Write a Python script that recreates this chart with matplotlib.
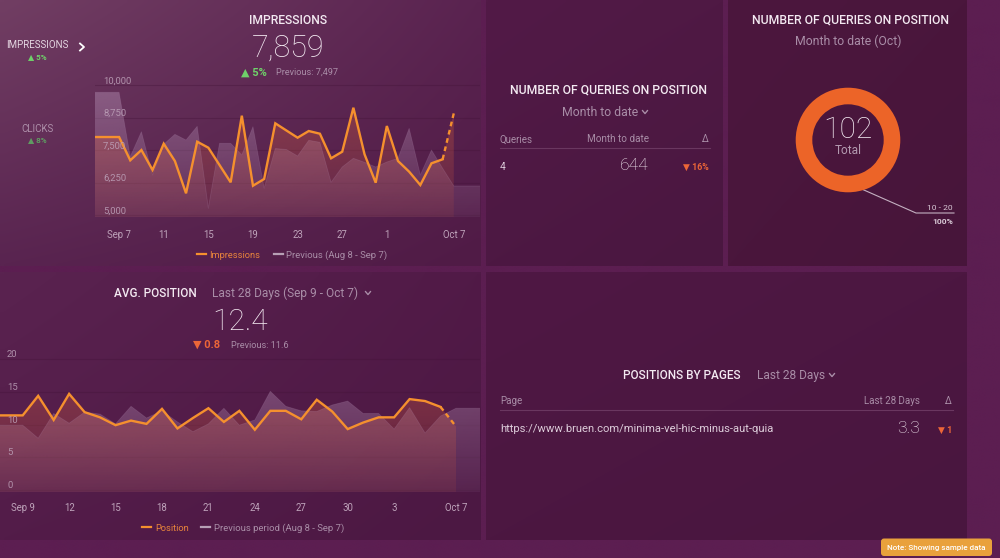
import numpy as np
import matplotlib
matplotlib.use('Agg')
import matplotlib.pyplot as plt
from matplotlib import transforms
from matplotlib.colors import to_rgb
from matplotlib.patches import FancyBboxPatch, Polygon

FONT = ['Roboto', 'DejaVu Sans']
plt.rcParams['font.family'] = FONT

# ---------------- DATA ----------------
# Impressions, daily, Sep 7 .. Oct 7
impressions = [8011, 7115, 7511, 6742, 7754, 7088, 5846, 7831, 7600, 6935, 6269,
               8831, 6138, 6396, 8538, 8261, 7985, 8242, 8138, 7192, 7446, 9138,
               7346, 6254, 8434, 7088, 6677, 6165, 7000, 7154, 8923]
imp_previous = [9731, 7254, 8215, 6550, 7731, 8115, 7896, 8423, 5269, 7769, 7769,
                7319, 8408, 6038, 7569, 7531, 7281, 7885, 7808, 6269, 6858, 7192,
                7038, 6858, 7050, 7192, 8346, 6550, 7511, 6808, 6127]
imp_xtick_pos = [0, 4, 8, 12, 16, 20, 24, 30]
imp_xtick_labels = ['Sep 7', '11', '15', '19', '23', '27', '1', 'Oct 7']
imp_yticks = [5000, 6250, 7500, 8750, 10000]
imp_ytick_labels = ['5,000', '6,250', '7,500', '8,750', '10,000']

# Avg. position, daily, Sep 9 .. Oct 7
position = [11.4, 14.4, 10.7, 14.7, 11.9, 11.1, 9.9, 10.6, 10.1, 12.4, 9.4, 11.0,
            12.5, 10.4, 12.1, 9.2, 12.1, 12.1, 10.8, 13.8, 12.0, 9.3, 10.3, 11.1,
            11.1, 13.9, 13.6, 12.7, 9.7]
pos_previous = [9.9, 7.9, 11.7, 10.2, 11.9, 11.6, 10.1, 12.8, 11.0, 12.1, 10.4, 8.9,
                10.1, 12.5, 9.9, 10.7, 15.1, 12.8, 12.1, 12.0, 13.0, 13.6, 11.7, 11.7,
                9.3, 12.6, 8.7, 11.3, 12.5]
pos_xtick_pos = [0, 3, 6, 9, 12, 15, 18, 21, 24, 28]
pos_xtick_labels = ['Sep 9', '12', '15', '18', '21', '24', '27', '30', '3', 'Oct 7']
pos_yticks = [0, 5, 10, 15, 20]
pos_ytick_labels = ['0', '5', '10', '15', '20']

# Donut: number of queries on position
donut_labels = ['10 - 20']
donut_values = [102]

# ---------------- FIGURE ----------------
W, H = 1000, 558
fig = plt.figure(figsize=(10, 5.58), dpi=100)

bg = fig.add_axes([0, 0, 1, 1])
bg.axis('off')


def grad_rect(x0, y0, x1, y1, tl, tr, bl, br):
    n = 64
    u = np.linspace(0, 1, n)
    U, V = np.meshgrid(u, u)
    U = U[..., None]
    V = V[..., None]
    c = ((1 - U) * (1 - V) * np.array(to_rgb(tl)) + U * (1 - V) * np.array(to_rgb(tr))
         + (1 - U) * V * np.array(to_rgb(bl)) + U * V * np.array(to_rgb(br)))
    bg.imshow(c, extent=(x0, x1, y1, y0), origin='upper', aspect='auto',
              interpolation='bilinear', zorder=0)


PAGE = '#5c1e51'
grad_rect(0, 0, W, H, PAGE, PAGE, PAGE, PAGE)
grad_rect(0, 0, 481, 266, '#713e63', '#5a2350', '#592450', '#501b46')
grad_rect(486, 0, 723, 266, '#521a47', '#4f1944', '#4d1843', '#4a1740')
grad_rect(728, 0, 967, 266, '#4c173e', '#4a163c', '#4a163c', '#47153a')
grad_rect(0, 272, 481, 540, '#5a2350', '#511a47', '#531c49', '#4c1843')
grad_rect(486, 272, 967, 540, '#4f1844', '#4c1741', '#4c1741', '#49163f')
bg.set_xlim(0, W)
bg.set_ylim(H, 0)

DY = 1.5


def T(x, y, s, size, color, ha='center', weight='normal', va='center', z=5):
    bg.text(x, y + DY, s, fontsize=size, color=color, ha=ha, va=va,
            fontweight=weight, family=FONT, zorder=z)


def chevron_down(x, y, color, s=2.6):
    bg.plot([x - s, x, x + s], [y - s * 0.6, y + s * 0.6, y - s * 0.6],
            color=color, lw=1.0, zorder=5, solid_capstyle='round')


def axes_px(l, t, r, b):
    ax = fig.add_axes([l / W, 1 - b / H, (r - l) / W, (b - t) / H])
    ax.patch.set_alpha(0)
    for sp in ax.spines.values():
        sp.set_visible(False)
    return ax


def grad_fill(ax, x, y, base, top, color, a_top, a_bot, zorder):
    verts = [(x[0], base)] + list(zip(x, y)) + [(x[-1], base)]
    poly = Polygon(verts, closed=True, facecolor='none', edgecolor='none')
    ax.add_patch(poly)
    n = 256
    rgba = np.zeros((n, 1, 4))
    rgba[..., :3] = to_rgb(color)
    rgba[:, 0, 3] = np.linspace(a_top, a_bot, n)
    im = ax.imshow(rgba, extent=(x[0], x[-1], base, top), origin='upper',
                   aspect='auto', interpolation='bilinear', zorder=zorder)
    im.set_clip_path(poly)


ORANGE = '#f5902e'
LAV = '#b48fb4'
GRID = '#431338'
TICKC = '#bea3ba'
GREEN = '#6fd06a'
RED = '#ec6638'
GREY = '#a98da7'
WHITE = '#f3e9f1'


def line_chart(ax, cur, prev, xlim, ylim, yticks, ylabels, xpos, xlabels,
               ylabel_dx, xlab_pad):
    n = len(cur)
    days = np.arange(n)
    # extend to left edge, previous to right edge
    xc = np.concatenate([[xlim[0]], days])
    yc = np.concatenate([[cur[0]], cur])
    xp = np.concatenate([[xlim[0]], days, [xlim[1]]])
    yp = np.concatenate([[prev[0]], prev, [prev[-1]]])
    base, top = ylim
    grad_fill(ax, xp, yp, base, top, LAV, 0.50, 0.10, 1)
    grad_fill(ax, xc, yc, base, top, '#d8603f', 0.42, 0.10, 2)
    ax.plot(xp, yp, color=LAV, lw=0.6, alpha=0.2, zorder=3)
    ax.plot(xc[:-1], yc[:-1], color=ORANGE, lw=1.7, zorder=4,
            solid_joinstyle='miter')
    ax.plot(xc[-2:], yc[-2:], color=ORANGE, lw=1.7, ls=(0, (2, 1.6)), zorder=4)
    for t in yticks:
        ax.axhline(t, color=GRID, lw=0.8, alpha=0.35, zorder=0.5)
    off = transforms.offset_copy(ax.get_yaxis_transform(), fig=fig,
                                 x=ylabel_dx, y=4.5, units='dots')
    for t, lab in zip(yticks, ylabels):
        ax.text(0, t, lab, transform=off, fontsize=6.8, color=TICKC, alpha=0.85,
                ha='left', va='center', zorder=5, family=FONT)
    ax.set_xlim(*xlim)
    ax.set_ylim(*ylim)
    ax.set_yticks([])
    ax.set_xticks(xpos)
    ax.set_xticklabels(xlabels, fontsize=6.9, color=TICKC, family=FONT)
    ax.tick_params(axis='x', length=0, pad=xlab_pad)


# ---------------- IMPRESSIONS ----------------
ax1 = axes_px(95, 80, 480, 217)
line_chart(ax1, impressions, imp_previous, (-2.16, 32.35), (4935, 10204),
           imp_yticks, imp_ytick_labels, imp_xtick_pos, imp_xtick_labels,
           8, 9.0)

T(288, 19, 'IMPRESSIONS', 8.7, WHITE, weight='medium')
T(288, 47, '7,859', 22, WHITE, weight='light')
T(254, 71, '▲ 5%', 8.0, GREEN, weight='bold')
T(276, 71, 'Previous: 7,497', 6.6, GREY, ha='left')
T(37, 44, 'IMPRESSIONS', 7.0, '#e4d6e1')
T(37, 56, '▲ 5%', 5.8, GREEN, weight='bold')
bg.plot([80, 84, 80], [43.5, 47, 50.5], color='white', lw=1.3, zorder=5)
T(37, 128, 'CLICKS', 7.0, '#ad8fa9')
T(37, 139, '▲ 8%', 5.8, '#5f9c62', weight='bold')

bg.plot([197, 206], [254, 254], color=ORANGE, lw=1.6, zorder=5)
T(209, 254, 'Impressions', 6.7, '#e8843c', ha='left')
bg.plot([274, 283], [254, 254], color='#b79fb5', lw=1.6, zorder=5)
T(286, 254, 'Previous (Aug 8 - Sep 7)', 6.8, GREY, ha='left')

# ---------------- AVG POSITION ----------------
ax2 = axes_px(0, 350, 480, 492)
line_chart(ax2, position, pos_previous, (-1.467, 29.55), (-0.35, 21.43),
           pos_yticks, pos_ytick_labels, pos_xtick_pos, pos_xtick_labels,
           7, 8.0)

T(155, 292, 'AVG. POSITION', 8.5, WHITE, weight='medium')
T(212, 292, 'Last 28 Days (Sep 9 - Oct 7)', 8.6, GREY, ha='left')
chevron_down(368, 293, GREY)
T(240, 320, '12.4', 21.5, WHITE, weight='light')
T(207, 343, '▼ 0.8', 8.0, RED, weight='bold')
T(231, 344, 'Previous: 11.6', 6.6, GREY, ha='left')

bg.plot([142, 151], [527, 527], color=ORANGE, lw=1.6, zorder=5)
T(155, 527, 'Position', 6.7, '#e8843c', ha='left')
bg.plot([201, 210], [527, 527], color='#b79fb5', lw=1.6, zorder=5)
T(214, 527, 'Previous period (Aug 8 - Sep 7)', 6.8, GREY, ha='left')

# ---------------- QUERIES TABLE ----------------
T(609, 89, 'NUMBER OF QUERIES ON POSITION', 8.8, WHITE, weight='medium')
T(600, 111, 'Month to date', 8.8, GREY)
chevron_down(645, 112, GREY)
T(500, 138, 'Queries', 7.0, GREY, ha='left')
T(649, 138, 'Month to date', 7.1, GREY, ha='right')
T(709, 138, 'Δ', 7.0, GREY, ha='right')
bg.plot([500, 710], [148, 148], color='#6a3760', lw=0.8, zorder=5)
T(500, 165, '4', 7.4, '#dccbd9', ha='left')
T(649, 164, '644', 12.5, WHITE, ha='right', weight='light')
T(709, 166, '▼ 16%', 6.4, RED, ha='right', weight='bold')

# ---------------- DONUT ----------------
T(851, 19, 'NUMBER OF QUERIES ON POSITION', 8.8, WHITE, weight='medium')
T(848, 40, 'Month to date (Oct)', 8.8, GREY)
r_px = 52.3
axd = axes_px(848 - 60, 140 - 60, 848 + 60, 140 + 60)
axd.pie(donut_values, colors=['#ec6428'], radius=1, startangle=90,
        counterclock=False, wedgeprops=dict(width=16.6 / r_px, edgecolor='none'))
lim = 60 / r_px
axd.set_xlim(-lim, lim)
axd.set_ylim(-lim, lim)
axd.set_aspect('auto')
axd.axis('off')
T(848, 129, str(sum(donut_values)), 21.5, WHITE, weight='light')
T(848, 149, 'Total', 8.6, '#b39ab0')
bg.plot([848, 916, 954], [183, 213, 213], color='#c4b0c1', lw=0.8, zorder=6)
bg.plot([848], [183], marker='o', ms=2.2, color='#e6d8e3', zorder=7)
T(953, 207, donut_labels[0], 6.1, '#d8c8d5', ha='right')
T(953, 220, '100%', 6.1, '#d8c8d5', ha='right', weight='bold')

# ---------------- POSITIONS BY PAGES ----------------
T(682, 374, 'POSITIONS BY PAGES', 8.5, WHITE, weight='medium')
T(757, 374, 'Last 28 Days', 8.6, GREY, ha='left')
chevron_down(832, 375, GREY)
T(500, 400, 'Page', 7.0, GREY, ha='left')
T(920, 400, 'Last 28 Days', 7.0, GREY, ha='right')
T(952, 400, 'Δ', 7.0, GREY, ha='right')
bg.plot([500, 953], [410, 410], color='#6a3760', lw=0.8, zorder=5)
T(500, 427, 'https://www.bruen.com/minima-vel-hic-minus-aut-quia', 8.1,
  '#dccbd9', ha='left')
T(920, 427, '3.3', 12.5, WHITE, ha='right', weight='light')
T(952, 429, '▼ 1', 6.4, RED, ha='right', weight='bold')

# ---------------- NOTE BADGE ----------------
badge = FancyBboxPatch((881, 538.5), 111, 17.5,
                       boxstyle='round,pad=0,rounding_size=3',
                       facecolor='#e9a13c', edgecolor='none', zorder=6)
bg.add_patch(badge)
T(936.5, 546.5, 'Note: Showing sample data', 5.8, 'white', weight='medium', z=8)

bg.set_xlim(0, W)
bg.set_ylim(H, 0)

fig.savefig('out.png', dpi=100)
